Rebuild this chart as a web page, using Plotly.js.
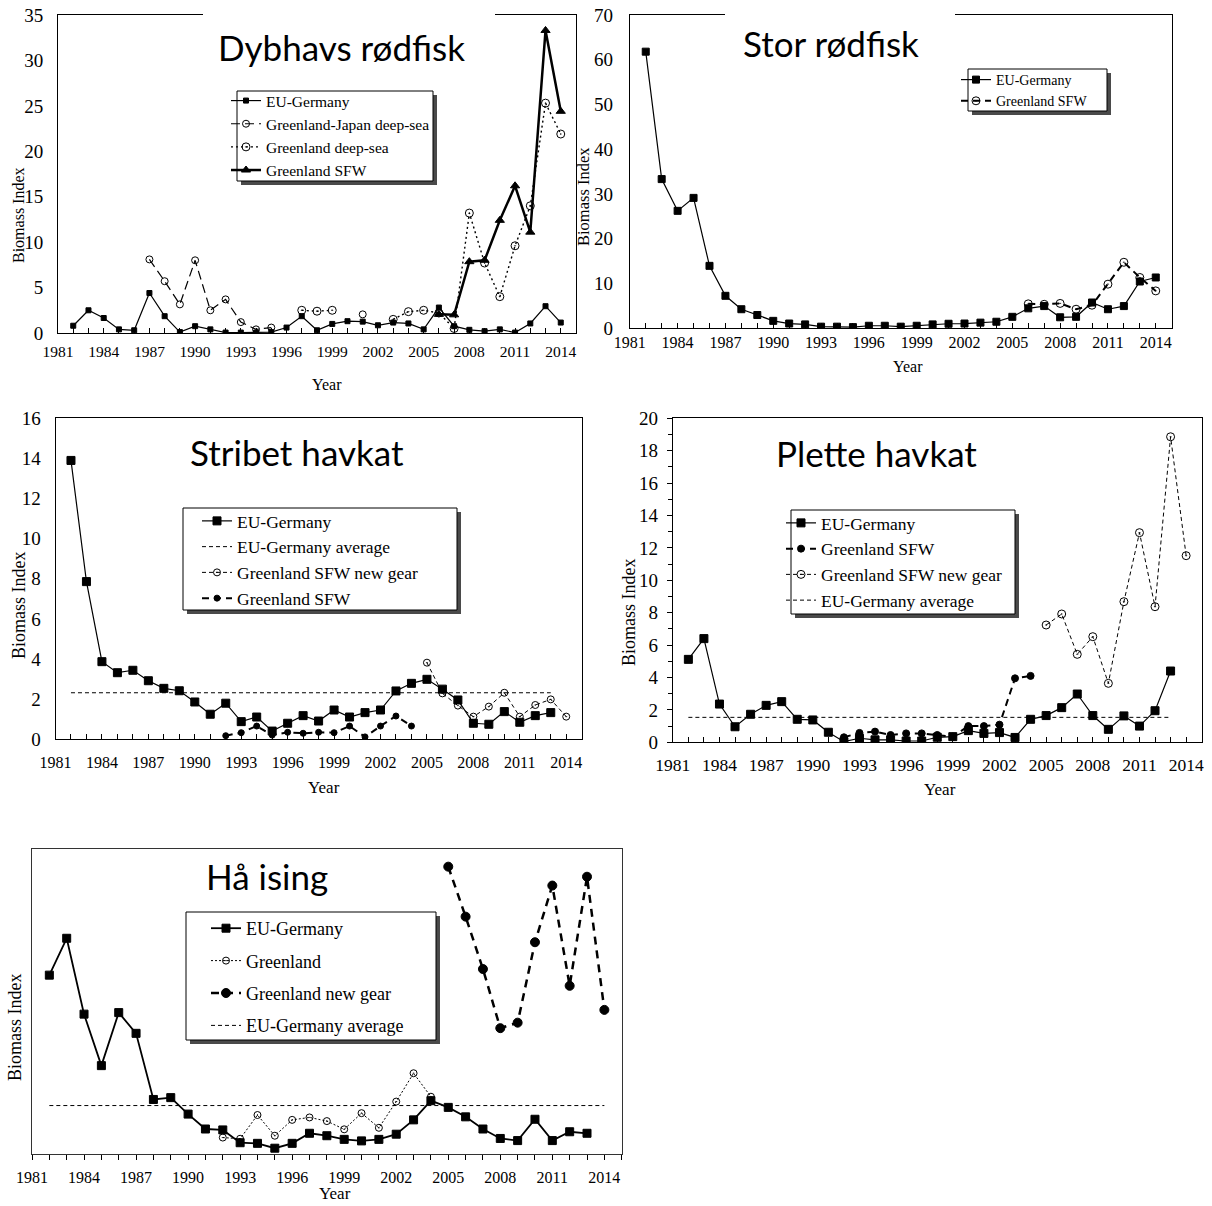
<!DOCTYPE html>
<html><head><meta charset="utf-8">
<script src="https://cdn.plot.ly/plotly-3.0.1.min.js"></script>
<style>body{margin:0;padding:0;background:#fff}#chart{width:1212px;height:1206px}</style>
</head><body><div id="chart"></div>
<script>
// ---------------- DATA ----------------
// Panel 1: Dybhavs rødfisk
const dybEU_start = 1982;
const dybEU = [0.8,2.5,1.65,0.4,0.3,4.4,1.85,0.1,0.75,0.4,0.05,0.05,0.05,0.1,0.6,1.85,0.3,1.0,1.3,1.25,0.85,1.15,1.05,0.4,2.8,0.75,0.35,0.2,0.4,0.05,1.05,2.95,1.15];
const dybGJ_start = 1987;
const dybGJ = [8.1,5.7,3.15,8.0,2.5,3.7,1.2,0.4,0.6,null,null,null,null,null,2.05];
const dybGD_start = 1997;
const dybGD = [2.5,2.4,2.5,null,null,null,1.5,2.35,2.5,2.2,0.5,13.2,7.7,4.0,9.6,14.0,25.3,21.9];
const dybSFW_start = 2006;
const dybSFW = [2.05,2.0,7.85,8.0,12.4,16.2,11.1,33.3,24.4];

// Panel 2: Stor rødfisk
const storEU_start = 1982;
const storEU = [61.8,33.3,26.2,29.1,13.9,7.2,4.2,2.9,1.6,1.0,0.8,0.3,0.3,0.2,0.5,0.5,0.3,0.5,0.8,0.95,1.0,1.2,1.4,2.5,4.4,4.9,2.4,2.5,5.7,4.2,4.9,10.4,11.3];
const storSFW_start = 2006;
const storSFW = [5.4,5.3,5.5,4.2,5.1,9.8,14.7,11.3,8.3];

// Panel 3: Stribet havkat
const strEU_start = 1982;
const strEU = [13.9,7.86,3.87,3.32,3.44,2.92,2.54,2.42,1.86,1.25,1.8,0.88,1.11,0.41,0.8,1.18,0.91,1.46,1.11,1.33,1.46,2.41,2.79,2.99,2.5,1.96,0.8,0.75,1.38,0.85,1.18,1.33];
const strEUavg = 2.32, strAvgFrom = 1982, strAvgTo = 2013;
const strNew_start = 2005;
const strNew = [3.82,2.29,1.68,1.13,1.63,2.32,1.13,1.71,1.99,1.13];
const strSFW_start = 1992;
const strSFW = [0.18,0.33,0.66,0.21,0.35,0.3,0.35,0.33,0.66,0.12,0.66,1.16,0.66];

// Panel 4: Plette havkat
const plEU_start = 1982;
const plEU = [5.12,6.4,2.36,0.96,1.73,2.28,2.51,1.42,1.38,0.62,0.04,0.25,0.15,0.15,0.08,0.08,0.31,0.35,0.72,0.55,0.6,0.3,1.42,1.65,2.14,2.98,1.65,0.8,1.63,1.0,1.95,4.4];
const plEUavg = 1.54, plAvgFrom = 1982, plAvgTo = 2013;
const plSFW_start = 1992;
const plSFW = [0.31,0.58,0.66,0.45,0.55,0.55,0.45,0.35,1.0,1.0,1.09,3.95,4.1];
const plNew_start = 2005;
const plNew = [7.24,7.92,5.43,6.52,3.64,8.68,12.94,8.37,18.86,11.52];

// Panel 5: Hå ising (unlabelled index scale)
const haEU_start = 1982;
const haEU = [58.7,70.8,45.9,29.0,46.4,39.6,17.9,18.5,13.1,8.2,7.9,3.7,3.5,1.9,3.5,6.8,6.0,4.8,4.3,4.8,6.5,11.2,17.5,15.3,12.2,8.2,5.1,4.4,11.4,4.4,7.3,6.8];
const haGL_start = 1992;
const haGL = [5.4,5.0,12.8,6.0,11.2,12.0,10.8,8.1,13.4,8.6,17.2,26.5,18.8];
const haNew_start = 2005;
const haNew = [94.3,77.9,60.7,41.3,43.1,69.5,88.1,55.2,91.0,47.3];
const haEUavg = 15.9, haAvgFrom = 1982, haAvgTo = 2014;

const titles = ["Dybhavs rødfisk","Stor rødfisk","Stribet havkat","Plette havkat","Hå ising"];

// ---------------- HELPERS ----------------
const W = 1212, H = 1206;
const px = v => v / W;
const py = v => 1 - v / H;
const yrs = (start, arr) => arr.map((_, i) => start + i);
const SERIF = 'Liberation Serif, Times New Roman, serif';
const BLK = '#000';

function tr(start, vals, ax, leg, name, line, marker, group) {
  return {
    type: 'scatter', mode: 'lines+markers', x: yrs(start, vals), y: vals,
    xaxis: 'x' + ax, yaxis: 'y' + ax, legend: leg, name: name,
    line: Object.assign({color: BLK, width: 1.2}, line),
    marker: Object.assign({color: BLK, line: {color: BLK, width: 1}}, marker),
    connectgaps: false, legendgroup: group || name, showlegend: true
  };
}
function avgTr(from, to, val, ax, leg, name, group) {
  return {
    type: 'scatter', mode: 'lines', x: [from, to], y: [val, val],
    xaxis: 'x' + ax, yaxis: 'y' + ax, legend: leg, name: name,
    line: {color: BLK, width: 1, dash: '4px,3px'}, legendgroup: group || name
  };
}

const traces = [
  // P1
  tr(dybEU_start, dybEU, '', 'legend', 'EU-Germany', {width: 1.2}, {symbol: 'square', size: 5}),
  tr(dybGJ_start, dybGJ, '', 'legend', 'Greenland-Japan deep-sea', {width: 1.2, dash: '9px,5px'}, {symbol: 'circle-open', size: 7}),
  tr(dybGD_start, dybGD, '', 'legend', 'Greenland deep-sea', {width: 1.4, dash: '2px,3px'}, {symbol: 'circle-open-dot', size: 8}),
  tr(dybSFW_start, dybSFW, '', 'legend', 'Greenland SFW', {width: 2.5}, {symbol: 'triangle-up', size: 8}),
  // P2
  tr(storEU_start, storEU, '2', 'legend2', 'EU-Germany', {width: 1.2}, {symbol: 'square', size: 7}),
  tr(storSFW_start, storSFW, '2', 'legend2', 'Greenland SFW', {width: 2, dash: '7px,5px'}, {symbol: 'circle-open-dot', size: 8}),
  // P3
  tr(strEU_start, strEU, '3', 'legend3', 'EU-Germany', {width: 1.2}, {symbol: 'square', size: 8}),
  avgTr(strAvgFrom, strAvgTo, strEUavg, '3', 'legend3', 'EU-Germany average'),
  tr(strNew_start, strNew, '3', 'legend3', 'Greenland SFW new gear', {width: 1, dash: '4px,3px'}, {symbol: 'circle-open-dot', size: 7}),
  tr(strSFW_start, strSFW, '3', 'legend3', 'Greenland SFW', {width: 2, dash: '7px,5px'}, {symbol: 'circle', size: 6}),
  // P4
  tr(plEU_start, plEU, '4', 'legend4', 'EU-Germany', {width: 1.2}, {symbol: 'square', size: 8}),
  tr(plSFW_start, plSFW, '4', 'legend4', 'Greenland SFW', {width: 2, dash: '7px,5px'}, {symbol: 'circle', size: 7}),
  tr(plNew_start, plNew, '4', 'legend4', 'Greenland SFW new gear', {width: 1, dash: '4px,3px'}, {symbol: 'circle-open-dot', size: 8}),
  avgTr(plAvgFrom, plAvgTo, plEUavg, '4', 'legend4', 'EU-Germany average'),
  // P5
  tr(haEU_start, haEU, '5', 'legend5', 'EU-Germany', {width: 1.8}, {symbol: 'square', size: 8}, 'h1'),
  tr(haGL_start, haGL, '5', 'legend5', 'Greenland', {width: 1, dash: '2px,2px'}, {symbol: 'circle-open-dot', size: 7}, 'h2'),
  tr(haNew_start, haNew, '5', 'legend5', 'Greenland new gear', {width: 2.5, dash: '8px,6px'}, {symbol: 'circle', size: 9}, 'h3'),
  avgTr(haAvgFrom, haAvgTo, haEUavg, '5', 'legend5', 'EU-Germany average', 'h4')
];

// ---------------- AXES ----------------
function xax(x0, x1, anchor, o) {
  o = o || {};
  return {
    domain: [px(x0), px(x1)], anchor: anchor, range: [1981, 2015],
    tickmode: 'linear', tick0: 1981, dtick: 3,
    ticks: o.ticks || 'inside', ticklen: 5, tickcolor: BLK, tickwidth: 1,
    minor: {dtick: 1, tick0: 1981, ticks: o.ticks || 'inside', ticklen: 5, tickcolor: BLK, tickwidth: 1, showgrid: false},
    showline: true, mirror: true, linecolor: o.lc || BLK, linewidth: 1,
    showgrid: false, zeroline: false,
    tickfont: {family: SERIF, size: o.fs || 16, color: BLK},
    ticklabelstandoff: o.so === undefined ? 4 : o.so
  };
}
function yax(y0, y1, anchor, range, dtick, o) {
  o = o || {};
  const a = {
    domain: [py(y1), py(y0)], anchor: anchor, range: range,
    tickmode: 'linear', tick0: 0, dtick: dtick,
    ticks: o.ticks || '', ticklen: 5, tickcolor: BLK,
    showline: true, mirror: true, linecolor: o.lc || BLK, linewidth: 1,
    showgrid: false, zeroline: false,
    showticklabels: o.labels !== false,
    tickfont: {family: SERIF, size: o.fs || 19, color: BLK},
    ticklabelstandoff: o.so === undefined ? 10 : o.so
  };
  if (o.minor) a.minor = o.minor;
  return a;
}

// ---------------- LEGENDS ----------------
function leg(x, y, fs, gap) {
  return {
    x: px(x), y: py(y), xanchor: 'left', yanchor: 'top',
    bgcolor: 'rgba(0,0,0,0)', borderwidth: 0,
    font: {family: SERIF, size: fs, color: BLK},
    itemwidth: 30, tracegroupgap: gap || 0, traceorder: 'grouped',
    itemclick: false, itemdoubleclick: false
  };
}
// legend boxes (border + shadow) in pixels: [x0, y0, x1, y1]
const legBoxes = [[237, 91, 433, 181], [968, 69, 1107, 111], [183, 508, 457, 610], [791, 510, 1015, 614], [186, 912, 436, 1040]];

const shapes = [];
legBoxes.forEach(b => {
  shapes.push({type: 'rect', xref: 'paper', yref: 'paper', x0: px(b[0] + 4), x1: px(b[2] + 4), y0: py(b[1] + 4), y1: py(b[3] + 4),
    fillcolor: '#4a4a4a', line: {width: 0}, layer: 'above'});
  shapes.push({type: 'rect', xref: 'paper', yref: 'paper', x0: px(b[0]), x1: px(b[2]), y0: py(b[1]), y1: py(b[3]),
    fillcolor: '#fff', line: {width: 1, color: BLK}, layer: 'above'});
});
// white title boxes hiding top frame line (panels 1 and 2)
shapes.push({type: 'rect', xref: 'paper', yref: 'paper', x0: px(203), x1: px(495), y0: py(22), y1: py(8), fillcolor: '#fff', line: {width: 0}, layer: 'above'});
shapes.push({type: 'rect', xref: 'paper', yref: 'paper', x0: px(725), x1: px(955), y0: py(22), y1: py(8), fillcolor: '#fff', line: {width: 0}, layer: 'above'});

// ---------------- ANNOTATIONS ----------------
const ann = [];
const titlePos = [[342, 47], [831, 43], [297, 452], [876, 453], [267, 876]];
titles.forEach((t, i) => ann.push({text: t, xref: 'paper', yref: 'paper', x: px(titlePos[i][0]), y: py(titlePos[i][1]),
  xanchor: 'center', yanchor: 'middle', showarrow: false, font: {family: 'Lato, Open Sans, sans-serif', size: 35, color: BLK}}));
const ytitles = [[18, 215, 16], [584, 197, 16.5], [19, 605, 18], [629, 612, 18], [15, 1027, 18]];
ytitles.forEach(p => ann.push({text: 'Biomass Index', xref: 'paper', yref: 'paper', x: px(p[0]), y: py(p[1]), textangle: -90,
  xanchor: 'center', yanchor: 'middle', showarrow: false, font: {family: SERIF, size: p[2], color: BLK}}));
const xtitles = [[327, 384, 16], [908, 366, 16], [324, 787, 17], [940, 789, 17], [335, 1193, 17]];
xtitles.forEach(p => ann.push({text: 'Year', xref: 'paper', yref: 'paper', x: px(p[0]), y: py(p[1]),
  xanchor: 'center', yanchor: 'middle', showarrow: false, font: {family: SERIF, size: p[2], color: BLK}}));

const layout = {
  width: W, height: H, margin: {l: 0, r: 0, t: 0, b: 0},
  paper_bgcolor: '#fff', plot_bgcolor: 'rgba(0,0,0,0)',
  showlegend: true,
  xaxis: xax(58, 576, 'y', {fs: 15.5}),
  yaxis: yax(15, 333, 'x', [0, 35], 5),
  xaxis2: xax(629.8, 1171.7, 'y2', {fs: 16, so: 0}),
  yaxis2: yax(15, 328, 'x2', [0, 70], 10, {so: 12}),
  xaxis3: xax(55.5, 581.7, 'y3', {fs: 16, so: 8}),
  yaxis3: yax(418.3, 739.3, 'x3', [0, 16], 2),
  xaxis4: xax(672.8, 1201.7, 'y4', {fs: 17.5, so: 7}),
  yaxis4: yax(418.3, 742.3, 'x4', [0, 20], 2, {ticks: 'outside', so: 5, minor: {dtick: 1, ticks: 'outside', ticklen: 4, tickcolor: BLK, showgrid: false}}),
  xaxis5: xax(32, 621.7, 'y5', {fs: 16, ticks: 'outside', lc: '#333'}),
  yaxis5: yax(849.3, 1154, 'x5', [0, 100], 20, {labels: false, lc: '#333'}),
  legend: leg(226, 84, 15.5),
  legend2: leg(956, 64, 14),
  legend3: leg(197, 503, 17.5),
  legend4: leg(781, 505, 17.5),
  legend5: leg(206, 910, 18, 6),
  shapes: shapes,
  annotations: ann
};

Plotly.newPlot('chart', traces, layout, {displayModeBar: false, staticPlot: true});
</script>
</body></html>
